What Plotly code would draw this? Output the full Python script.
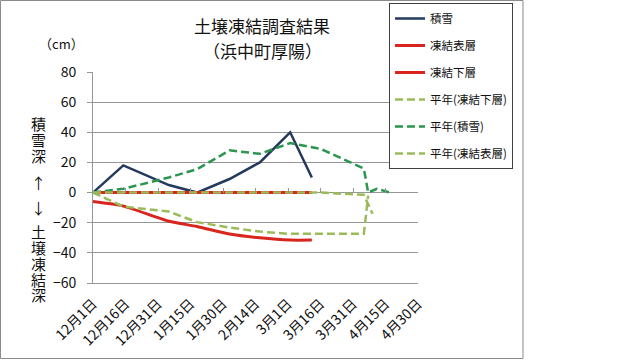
import plotly.graph_objects as go

# ---- data ----
obs_dates = ["2013-12-01", "2013-12-15", "2014-01-05", "2014-01-18",
             "2014-02-02", "2014-02-16", "2014-03-02", "2014-03-12"]
snow = [0, 18, 5, 0, 9, 20, 40, 10]
frost_surface = [0, 0, 0, 0, 0, 0, 0, 0]
frost_lower = [-6, -9, -19, -22.5, -27.5, -30, -31.5, -31.5]

norm_lower_dates = ["2013-12-01", "2013-12-15", "2014-01-05", "2014-01-18", "2014-02-02",
                    "2014-02-16", "2014-03-02", "2014-03-16", "2014-04-05", "2014-04-07"]
norm_lower = [0, -9.3, -12.6, -19.6, -23.2, -25.9, -27.4, -27.6, -27.4, -2]

norm_snow_dates = ["2013-12-01", "2013-12-15", "2014-01-05", "2014-01-18", "2014-02-02",
                   "2014-02-16", "2014-03-02", "2014-03-16", "2014-04-05", "2014-04-07",
                   "2014-04-11", "2014-04-17"]
norm_snow = [0, 2.5, 10, 15.5, 28, 25.7, 32.8, 29, 16, 0, 2.5, 0]

norm_surface_dates = ["2013-12-01", "2013-12-15", "2014-01-05", "2014-01-18", "2014-02-02",
                      "2014-02-16", "2014-03-02", "2014-03-16", "2014-04-05", "2014-04-09"]
norm_surface = [0, 0, 0, 0, 0, 0, 0, 0, -1.5, -14]

tick_dates = ["2013-12-01", "2013-12-16", "2013-12-31", "2014-01-15", "2014-01-30",
              "2014-02-14", "2014-03-01", "2014-03-16", "2014-03-31", "2014-04-15",
              "2014-04-30"]
tick_labels = ["12月1日", "12月16日", "12月31日", "1月15日", "1月30日", "2月14日",
               "3月1日", "3月16日", "3月31日", "4月15日", "4月30日"]

FONT = "Noto Sans CJK JP"
GRID = "#969696"
NAVY = "#233A5C"
RED = "#D8261E"
LGREEN = "#9BBB59"
DGREEN = "#2C9550"
DASH = "8px,4px"

fig = go.Figure()
fig.add_trace(go.Scatter(x=obs_dates, y=snow, name="積雪", mode="lines",
                         line=dict(color=NAVY, width=2.5), legendgroup="a"))
fig.add_trace(go.Scatter(x=obs_dates, y=frost_surface, name="凍結表層", mode="lines",
                         line=dict(color=RED, width=3), legendgroup="b"))
fig.add_trace(go.Scatter(x=obs_dates, y=frost_lower, name="凍結下層", mode="lines",
                         line=dict(color=RED, width=3, shape="spline", smoothing=0.6),
                         legendgroup="c"))
fig.add_trace(go.Scatter(x=norm_lower_dates, y=norm_lower, name="平年(凍結下層)", mode="lines",
                         line=dict(color=LGREEN, width=2.5, dash=DASH), legendgroup="d"))
fig.add_trace(go.Scatter(x=norm_snow_dates, y=norm_snow, name="平年(積雪)", mode="lines",
                         line=dict(color=DGREEN, width=2.5, dash=DASH), legendgroup="e"))
fig.add_trace(go.Scatter(x=norm_surface_dates, y=norm_surface, name="平年(凍結表層)", mode="lines",
                         line=dict(color=LGREEN, width=2.5, dash=DASH), legendgroup="f",
                         xaxis="x2"))

L, R, T, B = 93, 222, 72, 77
PW, PH = 640 - L - R, 360 - T - B


def px_x(p):
    return (p - L) / PW


def px_y(p):
    return (360 - B - p) / PH


annotations = [
    dict(text="土壌凍結調査結果", x=px_x(262), y=px_y(25), xref="paper", yref="paper",
         showarrow=False, font=dict(size=17, color="#111"), xanchor="center", yanchor="middle"),
    dict(text="（浜中町厚陽）", x=px_x(262), y=px_y(51), xref="paper", yref="paper",
         showarrow=False, font=dict(size=17, color="#111"), xanchor="center", yanchor="middle"),
    dict(text="（cm）", x=px_x(61), y=px_y(44), xref="paper", yref="paper",
         showarrow=False, font=dict(size=13, color="#111"), xanchor="center", yanchor="middle"),
]
ychars = [("積", 123), ("雪", 139), ("深", 155), ("↑", 182), ("↓", 207),
          ("土", 231), ("壌", 247), ("凍", 263), ("結", 279), ("深", 294)]
for ch, py in ychars:
    annotations.append(dict(text=ch, x=px_x(38), y=px_y(py), xref="paper", yref="paper",
                            showarrow=False, font=dict(size=15, color="#111"),
                            xanchor="center", yanchor="middle"))

fig.update_layout(
    width=640, height=360,
    margin=dict(l=L, r=R, t=T, b=B, autoexpand=False),
    paper_bgcolor="white", plot_bgcolor="white",
    font=dict(family=FONT, color="#111", size=13),
    showlegend=True,
    legend=dict(x=px_x(389), y=px_y(3), xanchor="left", yanchor="top",
                bordercolor="#404040", borderwidth=1, bgcolor="white",
                font=dict(size=11.5), tracegroupgap=8, traceorder="grouped"),
    xaxis=dict(type="date", range=["2013-12-01", "2014-04-30"],
               tickvals=tick_dates, ticktext=tick_labels, tickangle=-45,
               showgrid=False, zeroline=False, showline=True, linecolor=GRID,
               ticks="", tickfont=dict(size=14), ticklabelstandoff=6),
    xaxis2=dict(type="date", overlaying="x", matches="x", anchor="free",
                position=px_y(192.7), side="bottom", range=["2013-12-01", "2014-04-30"],
                tickvals=tick_dates, ticks="inside", ticklen=5, tickcolor=GRID,
                showticklabels=False, showgrid=False, zeroline=False, showline=False),
    yaxis=dict(range=[-60, 80], dtick=20, showgrid=True, gridcolor=GRID, gridwidth=1,
               zeroline=True, zerolinecolor=GRID, zerolinewidth=1,
               showline=True, linecolor=GRID, ticks="outside", ticklen=5, tickcolor=GRID,
               tickfont=dict(size=14), ticklabelstandoff=8),
    annotations=annotations,
    shapes=[dict(type="rect", xref="paper", yref="paper",
                 x0=px_x(0.5), x1=px_x(523), y0=px_y(358.5), y1=px_y(0.5),
                 line=dict(color="#8a8a8a", width=1), layer="below")],
)

fig.write_html("out.html", post_script="document.body.style.margin='0';",
               config={"displayModeBar": False})
